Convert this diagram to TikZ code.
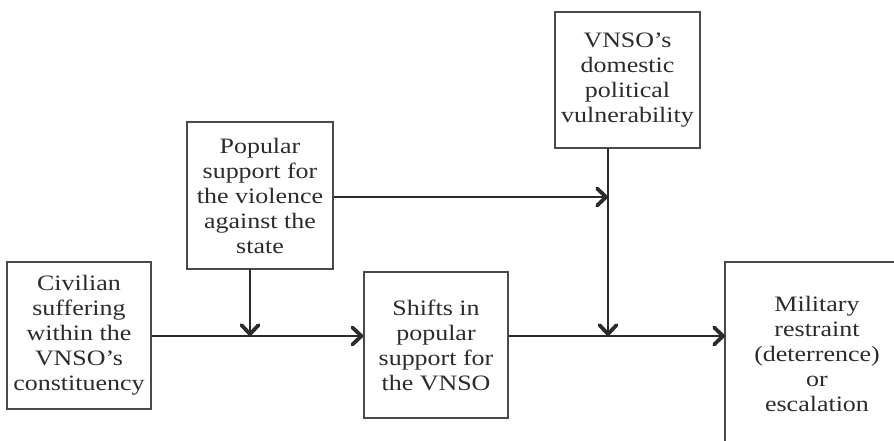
\documentclass[tikz,border=0pt]{standalone}
\usepackage{fontspec}
\setmainfont[FakeStretch=1.18]{Liberation Serif}
\usetikzlibrary{arrows.meta}
\definecolor{ink}{HTML}{2B2B2B}
\definecolor{frame}{HTML}{4A4A4A}
\begin{document}
\begin{tikzpicture}[x=1pt,y=-1pt,
  box/.style={draw=frame, line width=1.4pt, inner sep=0pt, align=center,
    text=ink, font=\fontsize{22}{25}\selectfont},
  label/.style={inner sep=0pt, align=center, text=ink,
    font=\fontsize{22}{25}\selectfont},
  link/.style={draw=ink, line width=1.3pt},
  flow/.style={link, -{Straight Barb[length=9pt,width=17pt,line width=3.8pt,round]}}]
\useasboundingbox (0,0) rectangle (894,441);

% boxes
\node[box, minimum width=144pt, minimum height=147pt] (civ) at (79,335.5)
  {Civilian\\suffering\\within the\\VNSO’s\\constituency};
\node[box, minimum width=146pt, minimum height=147pt] (pop) at (260,195.5)
  {Popular\\support for\\the violence\\against the\\state};
\node[box, minimum width=144pt, minimum height=146pt] (shift) at (436,345)
  {Shifts in\\popular\\support for\\the VNSO};
\node[box, minimum width=145pt, minimum height=136pt] (vnso) at (627.5,80)
  {VNSO’s\\domestic\\political\\vulnerability};

% outcome frame, open towards the edges
\coordinate (milbl) at (725,441);
\coordinate (miltl) at (725,262);
\coordinate (miltr) at (894,262);
\draw[draw=frame, line width=1.4pt] (milbl) -- (miltl) -- (miltr);
\node[label] (mil) at (817,354)
  {Military\\restraint\\(deterrence)\\or\\escalation};

% junction points on the main causal line
\coordinate (popdrop) at (250,269);
\coordinate (joinA) at (250,336);
\coordinate (vnsodrop) at (608,148);
\coordinate (joinB) at (608,336);
\coordinate (joinC) at (608,197);
\coordinate (milin) at (725,336);

% connectors
\draw[flow] (civ.east |- joinA) -- (shift.west |- joinA);
\draw[flow] (popdrop) -- (joinA);
\draw[flow] (pop.east |- joinC) -- (joinC);
\draw[flow] (vnsodrop) -- (joinB);
\draw[flow] (shift.east |- joinB) -- (milin);
\end{tikzpicture}
\end{document}
